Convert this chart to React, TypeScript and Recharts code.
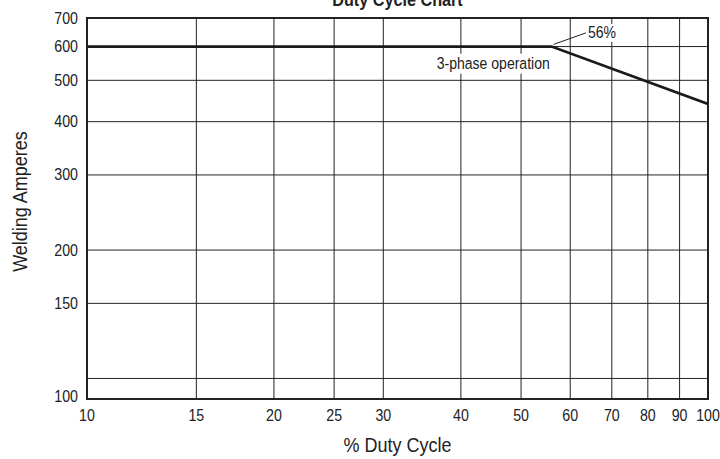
import React from "react";
import {
  LineChart, Line, XAxis, YAxis, CartesianGrid, ReferenceArea,
  ReferenceLine, ReferenceDot, Label,
} from "recharts";

const dutyCycle = [10, 56, 100];
const amperes = [600, 600, 440];

const xTicks = [10, 15, 20, 25, 30, 40, 50, 60, 70, 80, 90, 100];
const yTicks = [100, 150, 200, 300, 400, 500, 600, 700];
const yDomain = [89.5, 700];

// leader for the "56%" note and the series caption
const breakNote = { text: "56%", from: { x: 56.4, y: 607 }, to: { x: 63.6, y: 646 } };
const seriesNote = { text: "3-phase operation", x: 45.1, y: 547 };

const data = dutyCycle.map((x, i) => ({ x, y: amperes[i] }));

const FONT = '"Liberation Sans", Arial, sans-serif';
const INK = "#222";
const NARROW = 0.9; // the print uses a condensed face; squeeze Liberation Sans to match

// condensed-looking text: scale horizontally around its anchor point
const NText = ({ x, y, size, anchor = "start", rotate = 0, weight = 400, children }: any) => (
  <g transform={`translate(${x} ${y}) rotate(${rotate}) scale(${NARROW} 1)`}>
    <text x={0} y={0} textAnchor={anchor} fontSize={size} fontWeight={weight}
      fontFamily={FONT} fill={INK}>
      {children}
    </text>
  </g>
);

const XTick = ({ x, y, payload }: any) => (
  <NText x={x} y={y + 22} size={15.8} anchor="middle">{payload.value}</NText>
);

const YTick = ({ x, y, payload }: any) => (
  // the printed chart sets its "100" label down at the frame's bottom edge
  <NText x={x - 9} y={y + 5.5 + (payload.value === 100 ? 18 : 0)} size={15.8} anchor="end">
    {payload.value}
  </NText>
);

const YTitle = ({ viewBox }: any) => (
  <NText x={viewBox.x + 27} y={viewBox.y + viewBox.height / 2 - 7} size={20} anchor="middle" rotate={-90}>
    Welding Amperes
  </NText>
);

const XTitle = ({ viewBox }: any) => (
  <NText x={viewBox.x + viewBox.width / 2} y={viewBox.y + 53} size={20} anchor="middle">
    % Duty Cycle
  </NText>
);

const Caption = ({ viewBox }: any) => (
  <g>
    <rect x={viewBox.x - 59} y={viewBox.y - 10} width={118} height={20} fill="#fff" />
    <NText x={viewBox.x} y={viewBox.y + 5.5} size={15.6} anchor="middle">{seriesNote.text}</NText>
  </g>
);

const BreakLabel = ({ viewBox }: any) => (
  <g>
    <rect x={viewBox.x + 1} y={viewBox.y - 9} width={32} height={18} fill="#fff" />
    <NText x={viewBox.x + 2} y={viewBox.y + 5.5} size={15.6}>{breakNote.text}</NText>
  </g>
);

const Title = ({ viewBox }: any) => (
  <NText x={viewBox.x + viewBox.width / 2} y={6} size={18} weight={700} anchor="middle">
    Duty Cycle Chart
  </NText>
);

export default function App() {
  return (
    <div style={{ position: "absolute", left: 0, top: 0, width: 720, height: 459, background: "#fff" }}>
      <LineChart width={720} height={459} data={data} margin={{ top: 18, right: 12, bottom: 0, left: 0 }}>
        <CartesianGrid stroke={INK} strokeWidth={1} />
        <XAxis dataKey="x" type="number" scale="log" domain={[10, 100]} ticks={xTicks}
          allowDataOverflow interval={0} height={60} axisLine={false} tickLine={false}
          tickSize={0} tickMargin={0} tick={<XTick />}>
          <Label content={<XTitle />} />
          <Label content={<Title />} />
        </XAxis>
        <YAxis type="number" scale="log" domain={yDomain} ticks={yTicks}
          allowDataOverflow interval={0} width={87} axisLine={false} tickLine={false}
          tickSize={0} tickMargin={0} tick={<YTick />}>
          <Label content={<YTitle />} />
        </YAxis>
        <ReferenceArea x1={10} x2={100} y1={yDomain[0]} y2={yDomain[1]} fill="none"
          fillOpacity={0} stroke={INK} strokeWidth={2} ifOverflow="visible" />
        <Line dataKey="y" type="linear" stroke="#1a1a1a" strokeWidth={2.8} dot={false}
          activeDot={false} isAnimationActive={false} />
        <ReferenceLine segment={[breakNote.from, breakNote.to]} stroke={INK} strokeWidth={1} />
        <ReferenceDot x={breakNote.to.x} y={breakNote.to.y} r={0} stroke="none" fill="none"
          label={<BreakLabel />} />
        <ReferenceDot x={seriesNote.x} y={seriesNote.y} r={0} stroke="none" fill="none"
          label={<Caption />} />
      </LineChart>
    </div>
  );
}
